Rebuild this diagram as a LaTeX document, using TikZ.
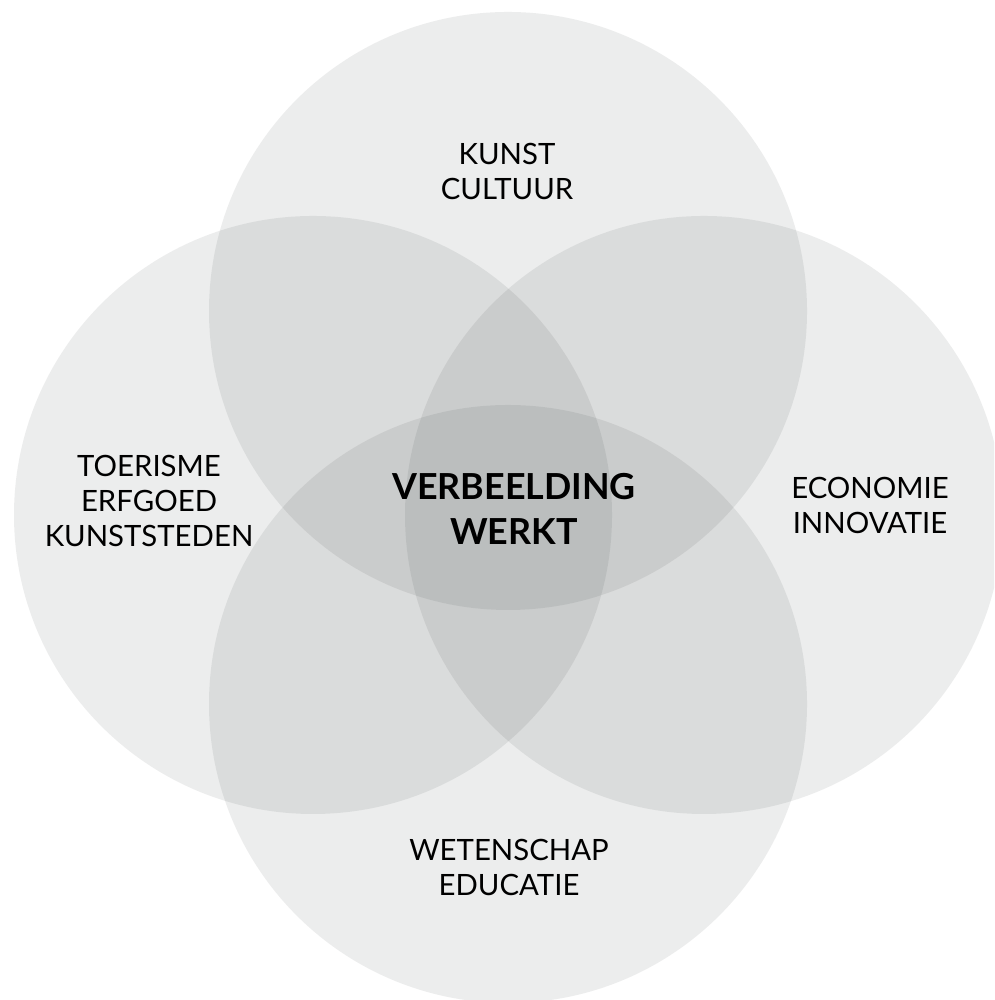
\documentclass[tikz,border=0pt]{standalone}
\usepackage{fontspec}
\setmainfont{Lato}
\definecolor{petalgray}{RGB}{10,20,20}

\begin{document}
\begin{tikzpicture}[
    petal/.style={
        circle,
        draw=none,
        fill=petalgray,
        fill opacity=0.078,
        minimum size=5.98cm,
        inner sep=0pt
    },
    topic/.style={
        align=center,
        inner sep=0pt,
        font=\fontsize{8.35}{9.96}\selectfont
    },
    core/.style={
        align=center,
        inner sep=0pt,
        font=\bfseries\fontsize{10.2}{12.8}\selectfont
    }
]
\useasboundingbox (0,0) rectangle (9.94,10);
\clip (0,0) rectangle (9.94,10);

% Circle 1: top
\node[petal] (kunst) at (5.08,6.89) {};

% Circle 2: left
\node[petal] (toerisme) at (3.13,4.85) {};

% Circle 3: right -- runs past the right edge
\node[petal] (economie) at (7.04,4.85) {};

% Circle 4: bottom
\node[petal] (wetenschap) at (5.08,2.96) {};

% Texts, placed from the centre of their circle
\node[topic] (kunsttext) at ([xshift=-0.1mm, yshift=13.97mm]kunst.center) {KUNST\\CULTUUR};
\node[topic] (toerismetext) at ([xshift=-16.4mm, yshift=1.4mm]toerisme.center) {TOERISME\\ERFGOED\\KUNSTSTEDEN};
\node[topic] (economietext) at ([xshift=16.6mm, yshift=1mm]economie.center) {ECONOMIE\\INNOVATIE};
\node[topic] (wetenschaptext) at ([xshift=0.1mm, yshift=-16.35mm]wetenschap.center) {WETENSCHAP\\EDUCATIE};

% Overlap of all four
\node[core] (kern) at (5.14,4.91) {VERBEELDING\\WERKT};

\end{tikzpicture}
\end{document}
